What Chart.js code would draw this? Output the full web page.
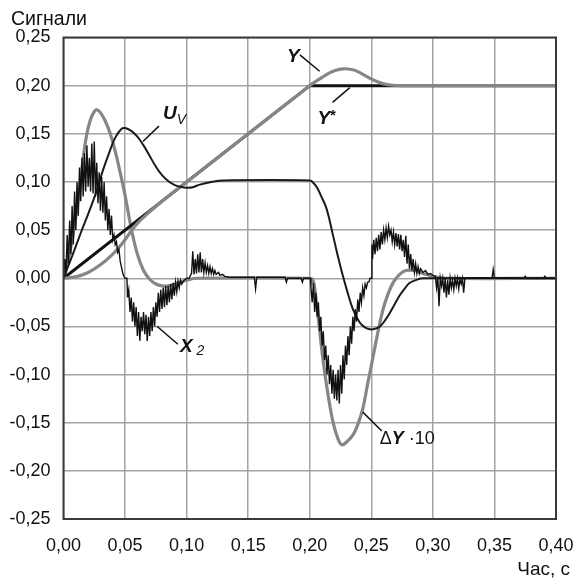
<!DOCTYPE html>
<html>
<head>
<meta charset="utf-8">
<script src="https://cdn.jsdelivr.net/npm/chart.js@4.4.1/dist/chart.umd.min.js"></script>
<style>
  body { margin: 0; background: #fff; }
  canvas { display: block; }
</style>
</head>
<body>
<canvas id="signals" width="575" height="579"></canvas>
<script>
// tick labels
const xTickLabels = ["0,00", "0,05", "0,10", "0,15", "0,20", "0,25", "0,30", "0,35", "0,40"];
const yTickLabels = ["-0,25", "-0,20", "-0,15", "-0,10", "-0,05", "0,00", "0,05", "0,10", "0,15", "0,20", "0,25"];

// Y* - задане значення
const refY = [[0, 0], [0.2, 0.2], [0.4, 0.2]];

// Y - вихід
const outY = [
  [0, 0], [0.01, 0.0015], [0.02, 0.006], [0.03, 0.014], [0.04, 0.025], [0.045, 0.032],
  [0.05, 0.04], [0.055, 0.049], [0.06, 0.057], [0.07, 0.069], [0.08, 0.08], [0.1, 0.1],
  [0.15, 0.15], [0.2, 0.2], [0.205, 0.2045], [0.21, 0.2085], [0.215, 0.2125], [0.22, 0.2155],
  [0.227, 0.2175], [0.235, 0.2165], [0.24, 0.214], [0.245, 0.2105], [0.25, 0.207],
  [0.255, 0.204], [0.26, 0.2018], [0.267, 0.2004], [0.275, 0.2], [0.4, 0.2]
];

// ΔY·10
const errY = [
  [0, 0], [0.004, 0.02], [0.008, 0.047], [0.013, 0.092], [0.016, 0.125], [0.019, 0.15],
  [0.022, 0.165], [0.025, 0.173], [0.027, 0.175], [0.03, 0.172], [0.034, 0.163],
  [0.038, 0.15], [0.042, 0.132], [0.046, 0.11], [0.05, 0.086], [0.055, 0.052],
  [0.06, 0.025], [0.065, 0.008], [0.07, -0.001], [0.075, -0.006], [0.08, -0.008],
  [0.085, -0.008], [0.09, -0.006], [0.095, -0.004], [0.1, -0.002], [0.108, 0],
  [0.2, 0], [0.2027, -0.002], [0.205, -0.02], [0.207, -0.042], [0.211, -0.087],
  [0.215, -0.122], [0.219, -0.15], [0.223, -0.167], [0.226, -0.173], [0.23, -0.17],
  [0.235, -0.163], [0.239, -0.152], [0.243, -0.136], [0.247, -0.11], [0.2515, -0.081],
  [0.2555, -0.055], [0.2596, -0.032], [0.264, -0.015], [0.268, -0.004], [0.273, 0.004],
  [0.278, 0.008], [0.285, 0.008], [0.292, 0.005], [0.3, 0.002], [0.31, 0], [0.4, 0]
];

// U_V
const ctrlU = [
  [0, 0], [0.007, 0.023], [0.014, 0.047], [0.021, 0.07], [0.027, 0.091], [0.032, 0.112],
  [0.037, 0.13], [0.042, 0.146], [0.047, 0.155], [0.05, 0.156], [0.055, 0.153],
  [0.06, 0.147], [0.065, 0.138], [0.07, 0.127], [0.075, 0.116], [0.08, 0.107],
  [0.085, 0.101], [0.09, 0.097], [0.095, 0.095], [0.1, 0.094], [0.105, 0.0945],
  [0.11, 0.097], [0.12, 0.1], [0.13, 0.1015], [0.2, 0.1015], [0.203, 0.099],
  [0.206, 0.094], [0.209, 0.086], [0.2137, 0.072], [0.219, 0.044], [0.223, 0.022],
  [0.227, 0.002], [0.231, -0.016], [0.235, -0.032], [0.2406, -0.046], [0.2448, -0.051],
  [0.2488, -0.053], [0.253, -0.0525], [0.257, -0.05], [0.261, -0.044], [0.265, -0.036],
  [0.269, -0.027], [0.273, -0.018], [0.277, -0.011], [0.281, -0.005], [0.286, -0.002],
  [0.292, 0], [0.4, 0]
];

// X2 - зашумлений сигнал
const stateX2 = [
  [0, 0], [0.001, 0.02], [0.002, 0.005], [0.003, 0.045], [0.004, 0.015], [0.005, 0.06],
  [0.006, 0.025], [0.007, 0.075], [0.008, 0.035], [0.009, 0.09], [0.01, 0.05], [0.011, 0.1],
  [0.012, 0.065], [0.013, 0.115], [0.014, 0.08], [0.015, 0.125], [0.016, 0.085], [0.017, 0.13],
  [0.018, 0.09], [0.019, 0.138], [0.02, 0.095], [0.021, 0.125], [0.022, 0.09], [0.023, 0.14],
  [0.024, 0.088], [0.025, 0.142], [0.026, 0.085], [0.027, 0.12], [0.028, 0.078], [0.029, 0.11],
  [0.03, 0.07], [0.031, 0.105], [0.032, 0.068], [0.033, 0.1], [0.034, 0.06], [0.035, 0.085],
  [0.036, 0.05], [0.037, 0.072], [0.038, 0.045], [0.039, 0.065], [0.04, 0.04], [0.041, 0.045],
  [0.042, 0.035], [0.043, 0.038], [0.044, 0.027], [0.045, 0.03], [0.046, 0.018], [0.047, 0.012],
  [0.048, 0.006], [0.049, 0.002], [0.05, 0], [0.0515, 0],
  [0.052, -0.02], [0.053, -0.012], [0.054, -0.035], [0.055, -0.02], [0.056, -0.045],
  [0.057, -0.025], [0.058, -0.05], [0.059, -0.03], [0.06, -0.06], [0.061, -0.035],
  [0.062, -0.065], [0.063, -0.04], [0.064, -0.055], [0.065, -0.035], [0.066, -0.058],
  [0.067, -0.038], [0.068, -0.065], [0.069, -0.04], [0.07, -0.06], [0.071, -0.035],
  [0.072, -0.055], [0.073, -0.03], [0.074, -0.05], [0.075, -0.025], [0.076, -0.04],
  [0.077, -0.015], [0.078, -0.035], [0.079, -0.012], [0.08, -0.032], [0.081, -0.01],
  [0.082, -0.03], [0.083, -0.008], [0.084, -0.028], [0.085, -0.008], [0.086, -0.025],
  [0.087, -0.006], [0.088, -0.022], [0.089, -0.005], [0.09, -0.018], [0.091, -0.004],
  [0.092, -0.014], [0.093, -0.003], [0.094, -0.01], [0.095, -0.002], [0.096, -0.006],
  [0.098, -0.002], [0.1, 0], [0.102, 0],
  [0.104, 0.005], [0.105, 0.028], [0.106, 0.004], [0.107, 0.02], [0.108, 0.005],
  [0.109, 0.025], [0.11, 0.006], [0.111, 0.027], [0.112, 0.006], [0.113, 0.02],
  [0.114, 0.006], [0.115, 0.016], [0.116, 0.006], [0.117, 0.013], [0.118, 0.005],
  [0.119, 0.012], [0.12, 0.005], [0.121, 0.01], [0.122, 0.004], [0.123, 0.008],
  [0.124, 0.004], [0.126, 0.006], [0.127, 0.003], [0.129, 0.004], [0.131, 0.002],
  [0.135, 0.001], [0.155, 0.001], [0.156, -0.011], [0.157, 0.001], [0.18, 0.001],
  [0.181, -0.004], [0.182, 0], [0.193, 0], [0.194, -0.004], [0.195, 0], [0.2, 0],
  [0.2005, 0], [0.201, -0.01], [0.202, -0.025], [0.203, -0.005], [0.204, -0.035],
  [0.205, -0.015], [0.206, -0.04], [0.207, -0.025], [0.208, -0.055], [0.209, -0.04],
  [0.21, -0.07], [0.211, -0.055], [0.212, -0.085], [0.213, -0.07], [0.214, -0.1],
  [0.215, -0.08], [0.216, -0.11], [0.217, -0.09], [0.218, -0.12], [0.219, -0.095],
  [0.22, -0.125], [0.221, -0.1], [0.222, -0.127], [0.223, -0.095], [0.224, -0.13],
  [0.225, -0.09], [0.226, -0.12], [0.227, -0.08], [0.228, -0.105], [0.229, -0.07],
  [0.23, -0.09], [0.231, -0.06], [0.232, -0.08], [0.233, -0.05], [0.234, -0.068],
  [0.235, -0.04], [0.236, -0.055], [0.237, -0.032], [0.238, -0.045], [0.239, -0.022],
  [0.24, -0.035], [0.241, -0.015], [0.242, -0.025], [0.243, -0.01], [0.244, -0.018],
  [0.245, -0.006], [0.246, -0.01], [0.247, -0.004], [0.248, -0.004], [0.249, 0], [0.25, 0],
  [0.2505, 0.035], [0.251, 0.02], [0.252, 0.04], [0.253, 0.025], [0.254, 0.042],
  [0.255, 0.028], [0.256, 0.045], [0.257, 0.03], [0.258, 0.048], [0.259, 0.035],
  [0.26, 0.05], [0.261, 0.04], [0.262, 0.052], [0.263, 0.042], [0.264, 0.054],
  [0.265, 0.045], [0.266, 0.05], [0.267, 0.038], [0.268, 0.048], [0.269, 0.035],
  [0.27, 0.047], [0.271, 0.033], [0.272, 0.046], [0.273, 0.03], [0.274, 0.045],
  [0.275, 0.028], [0.276, 0.04], [0.277, 0.022], [0.278, 0.044], [0.279, 0.015],
  [0.28, 0.035], [0.281, 0.01], [0.282, 0.025], [0.283, 0.008], [0.284, 0.02],
  [0.285, 0.006], [0.286, 0.015], [0.287, 0.005], [0.288, 0.012], [0.289, 0.005],
  [0.29, 0.01], [0.292, 0.006], [0.294, 0.008], [0.296, 0.004], [0.298, 0.005],
  [0.3, 0.003], [0.302, 0.002], [0.303, -0.01], [0.304, 0.001], [0.305, -0.029],
  [0.306, 0], [0.307, -0.008], [0.308, 0], [0.309, -0.015], [0.31, 0], [0.311, -0.02],
  [0.312, -0.002], [0.313, -0.017], [0.314, 0], [0.315, -0.01], [0.316, -0.002],
  [0.317, -0.012], [0.318, 0], [0.319, -0.008], [0.32, 0], [0.321, -0.011],
  [0.322, -0.001], [0.323, -0.006], [0.324, 0], [0.325, -0.015], [0.326, 0],
  [0.348, 0], [0.349, 0.009], [0.35, 0], [0.374, 0], [0.375, 0.002], [0.376, 0],
  [0.39, 0], [0.391, 0.002], [0.392, 0], [0.4, 0]
];

const GRAY = "#868686";
const toXY = arr => arr.map(p => ({ x: p[0], y: p[1] }));

// підписи кривих: [t, значення] -> текст, лінія-виноска
const curveLabels = [
  { parts: [["U", "bold italic 19px 'Liberation Sans'", 0], ["V", "italic 14px 'Liberation Sans'", 5]],
    at: [0.0808, 0.165], leader: [[0.0645, 0.142], [0.0775, 0.158]] },
  { parts: [["Y", "bold italic 19px 'Liberation Sans'", 0]],
    at: [0.1815, 0.225], leader: [[0.192, 0.232], [0.208, 0.215]] },
  { parts: [["Y", "bold italic 19px 'Liberation Sans'", 0], ["*", "bold 15px 'Liberation Sans'", -4]],
    at: [0.2062, 0.16], leader: [[0.2185, 0.1826], [0.2326, 0.198]] },
  { parts: [["X", "bold italic 19px 'Liberation Sans'", 0], [" 2", "italic 14px 'Liberation Sans'", 3]],
    at: [0.0946, -0.0768], leader: [[0.0759, -0.0498], [0.0929, -0.0685]] },
  { parts: [["Δ", "18px 'Liberation Sans'", 0], ["Y", "bold italic 18px 'Liberation Sans'", 0], [" ·10", "18px 'Liberation Sans'", 0]],
    at: [0.2569, -0.172], leader: [[0.2431, -0.139], [0.2585, -0.1587]] }
];

const annotate = {
  id: "annotate",
  afterDatasetsDraw(chart) {
    const { ctx, chartArea, scales } = chart;
    const px = t => scales.x.getPixelForValue(t);
    const py = v => scales.y.getPixelForValue(v);
    ctx.save();
    // рамка
    ctx.strokeStyle = "#3a3a3a";
    ctx.lineWidth = 2;
    ctx.strokeRect(chartArea.left, chartArea.top, chartArea.right - chartArea.left, chartArea.bottom - chartArea.top);

    ctx.fillStyle = "#111";
    ctx.strokeStyle = "#111";
    ctx.lineWidth = 1.5;
    ctx.textBaseline = "alphabetic";
    curveLabels.forEach(l => {
      ctx.beginPath();
      ctx.moveTo(px(l.leader[0][0]), py(l.leader[0][1]));
      ctx.lineTo(px(l.leader[1][0]), py(l.leader[1][1]));
      ctx.stroke();
      let x = px(l.at[0]);
      const y = py(l.at[1]);
      l.parts.forEach(([txt, font, dy]) => {
        ctx.font = font;
        ctx.fillText(txt, x, y + dy);
        x += ctx.measureText(txt).width;
      });
    });

    // назви осей
    ctx.font = "19.5px 'Liberation Sans'";
    ctx.textAlign = "left";
    ctx.fillText("Сигнали", 11, 25);
    ctx.font = "19px 'Liberation Sans'";
    ctx.textAlign = "right";
    ctx.fillText("Час, с", 570, 575);
    ctx.restore();
  }
};

const ctx = document.getElementById("signals").getContext("2d");

new Chart(ctx, {
  type: "scatter",
  data: {
    datasets: [
      { label: "X2", data: toXY(stateX2), borderColor: "#111", borderWidth: 1.4, tension: 0 },
      { label: "Uv", data: toXY(ctrlU), borderColor: "#1a1a1a", borderWidth: 2, tension: 0.4 },
      { label: "Y", data: toXY(outY), borderColor: GRAY, borderWidth: 3.2, tension: 0.4 },
      { label: "Y*", data: toXY(refY), borderColor: "#111", borderWidth: 3, tension: 0 },
      { label: "ΔY·10", data: toXY(errY), borderColor: GRAY, borderWidth: 3.2, tension: 0.4 }
    ].map(d => Object.assign(d, { showLine: true, pointRadius: 0, fill: false }))
  },
  options: {
    responsive: false,
    animation: false,
    layout: { padding: { top: 37.5, right: 19, left: 0, bottom: 0 } },
    plugins: {
      legend: { display: false },
      tooltip: { enabled: false }
    },
    scales: {
      x: {
        type: "linear",
        min: 0,
        max: 0.4,
        afterFit: s => { s.height = 60; s.paddingLeft = 0; s.paddingRight = 0; },
        ticks: {
          stepSize: 0.05,
          padding: 16,
          color: "#111",
          font: { family: "'Liberation Sans'", size: 18 },
          maxRotation: 0,
          callback: v => xTickLabels[Math.round(v / 0.05)]
        },
        grid: { color: "#a3a3a3", lineWidth: 1.5, drawTicks: false },
        border: { display: false }
      },
      y: {
        type: "linear",
        min: -0.25,
        max: 0.25,
        afterFit: s => { s.width = 63.5; s.paddingTop = 0; s.paddingBottom = 0; },
        ticks: {
          stepSize: 0.05,
          padding: 13,
          color: "#111",
          font: { family: "'Liberation Sans'", size: 18 },
          callback: v => yTickLabels[Math.round((v + 0.25) / 0.05)]
        },
        grid: { color: "#a3a3a3", lineWidth: 1.5, drawTicks: false },
        border: { display: false }
      }
    }
  },
  plugins: [annotate]
});
</script>
</body>
</html>
